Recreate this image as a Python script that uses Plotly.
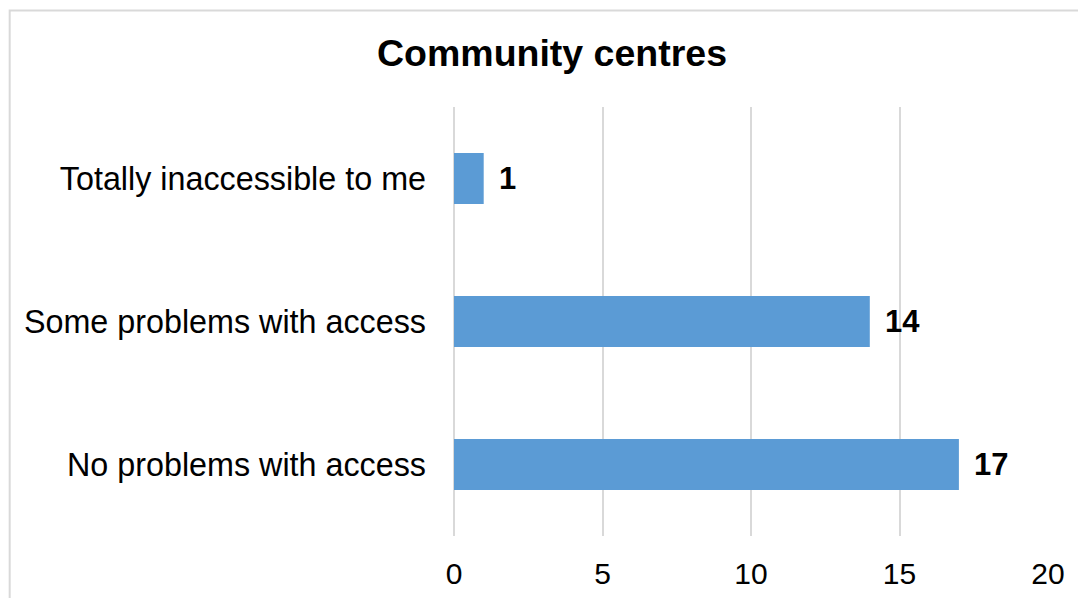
import plotly.graph_objects as go

categories = ["No problems with access", "Some problems with access", "Totally inaccessible to me"]
values = [17, 14, 1]
x_ticks = [0, 5, 10, 15, 20]
title_text = "Community centres"

FONT = "Liberation Sans, Arial, sans-serif"

fig = go.Figure()
fig.add_trace(go.Bar(
    x=values, y=categories, orientation="h",
    marker=dict(color="#5B9BD5", line=dict(width=0)),
    hoverinfo="skip",
))

for c, v in zip(categories, values):
    fig.add_annotation(x=v, y=c, xref="x", yref="y", text=f"<b>{v}</b>",
                       showarrow=False, xanchor="left", yanchor="middle", xshift=13,
                       font=dict(family=FONT, size=31, color="#000000"))

fig.add_shape(type="rect", xref="paper", yref="paper",
              x0=-0.748, x1=1.2, y0=-0.3, y1=1.225,
              line=dict(color="#d9d9d9", width=2), fillcolor="rgba(0,0,0,0)", layer="below")

fig.update_layout(
    width=1086, height=598,
    margin=dict(l=446, r=46, t=99, b=70),
    paper_bgcolor="white", plot_bgcolor="white",
    bargap=0.643,
    showlegend=False,
    title=dict(text=f"<b>{title_text}</b>", x=544/1086, xref="container", xanchor="center",
               y=1 - 45/598, yref="container", yanchor="middle",
               font=dict(family=FONT, size=37.5, color="#000000")),
    font=dict(family=FONT, color="#000000"),
)
fig.update_xaxes(range=[0, 20], tickvals=x_ticks, showgrid=True, gridcolor="#d9d9d9", gridwidth=1.5,
                 zeroline=True, zerolinecolor="#d9d9d9", zerolinewidth=1.5, showline=False,
                 tickfont=dict(family=FONT, size=30, color="#000000"), ticks="",
                 ticklabelstandoff=17, fixedrange=True)
fig.update_yaxes(showgrid=False, showline=False, zeroline=False, ticks="",
                 tickfont=dict(family=FONT, size=32.3, color="#000000"),
                 ticklabelstandoff=27, fixedrange=True)

fig.write_html("out.html")
